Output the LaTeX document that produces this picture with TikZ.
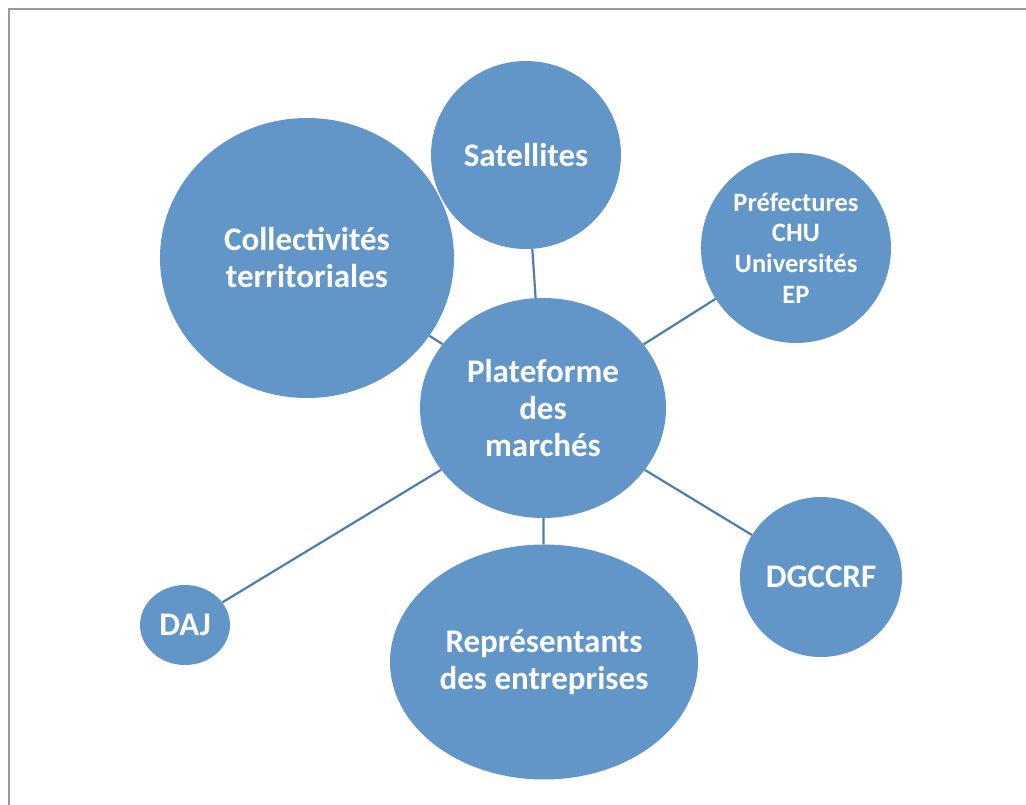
\documentclass[tikz,border=0pt]{standalone}
\usepackage{fontspec}
\setmainfont{Carlito}
\usetikzlibrary{shapes.geometric}
\definecolor{bubble}{RGB}{98,150,201}
\definecolor{link}{RGB}{80,125,175}
\definecolor{frame}{RGB}{150,152,165}
\begin{document}
\begin{tikzpicture}[x=1pt,y=-1pt,
  bub/.style={ellipse,fill=bubble,draw=none,inner sep=0pt,text=white,align=center,font=\bfseries\fontsize{33}{37}\selectfont},
  con/.style={draw=link,line width=2.2pt}]
\useasboundingbox (0,0) rectangle (1026,805);
\fill[white] (0,0) rectangle (1026,805);
\draw[frame,line width=2pt] (9,805) -- (9,9) -- (1026,9);
\node[bub,minimum width=190pt,minimum height=188pt] (sat) at (526,155) {Satellites};
\node[bub,minimum width=294pt,minimum height=280pt] (col) at (307,258) {Collectivités\\territoriales};
\node[bub,minimum width=190pt,minimum height=190pt,font=\bfseries\fontsize{26.5}{30.7}\selectfont] (pref) at (796,248) {Préfectures\\CHU\\Universités\\EP};
\node[bub,minimum width=246pt,minimum height=220pt] (plat) at (543,408) {Plateforme\\des\\marchés};
\node[bub,minimum width=162pt,minimum height=160pt] (dg) at (821,577) {DGCCRF};
\node[bub,minimum width=308pt,minimum height=235pt] (rep) at (544,662) {Représentants\\des entreprises};
\node[bub,minimum width=90pt,minimum height=80pt] (daj) at (185,625) {DAJ};
\draw[con] (sat) -- (plat);
\draw[con] (col) -- (plat);
\draw[con] (pref) -- (plat);
\draw[con] (plat) -- (dg);
\draw[con] (plat) -- (rep);
\draw[con] (plat) -- (daj);
\end{tikzpicture}
\end{document}
